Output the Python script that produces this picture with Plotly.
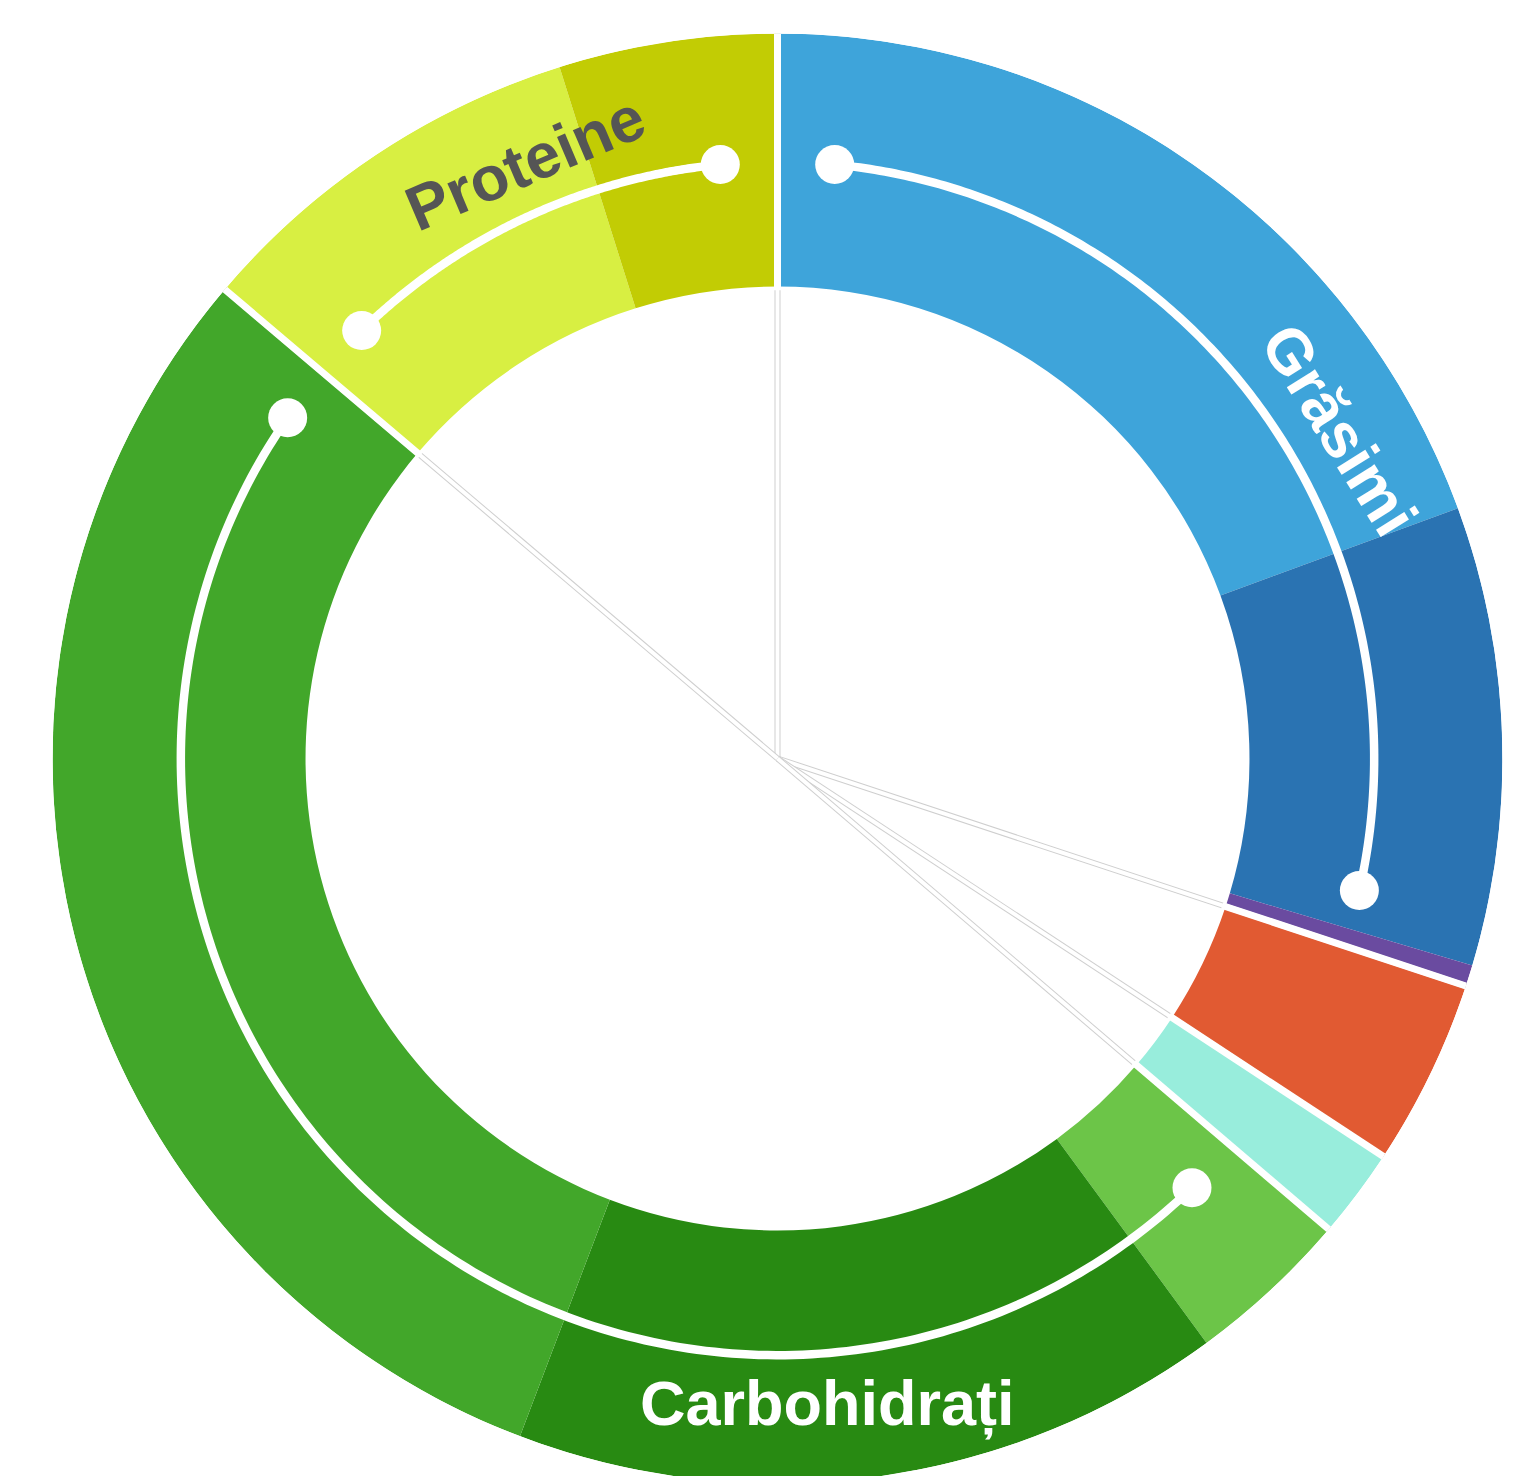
import numpy as np
import plotly.graph_objects as go

# ---------------- data ----------------
categories = ["Grăsimi 1", "Grăsimi 2", "Grăsimi 3", "Segment 4", "Segment 5",
              "Carbohidrați 1", "Carbohidrați 2", "Carbohidrați 3",
              "Proteine 1", "Proteine 2"]
groups = ["Grăsimi", "Grăsimi", "Grăsimi", "Segment 4", "Segment 5",
          "Carbohidrați", "Carbohidrați", "Carbohidrați",
          "Proteine", "Proteine"]
values = [19.39, 10.22, 0.47, 4.17, 2.00, 3.67, 15.86, 30.42, 8.94, 4.86]
colors = ["#3EA4DA", "#2A73B2", "#6A4BA0", "#E15A32", "#98EDDC",
          "#6CC548", "#288A12", "#42A72A", "#D8EF42", "#C2CC04"]
arc_groups = ["Grăsimi", "Carbohidrați", "Proteine"]
label_text = ["Grăsimi", "Carbohidrați", "Proteine"]
label_colors = ["#FFFFFF", "#FFFFFF", "#555555"]

# ---------------- geometry ----------------
W, H = 1532, 1476
CX, CY, R = 769.5, 750.5, 725.0
INNER = 0.651
ARC_R = 0.823
ARC_INSET = 5.5

vals = np.array(values, dtype=float)
ends = np.cumsum(vals) / vals.sum() * 360.0
starts = ends - vals / vals.sum() * 360.0
widths = ends - starts
centers = (starts + ends) / 2

fig = go.Figure()

fig.add_trace(go.Barpolar(
    r=[1 - INNER] * len(vals), base=[INNER] * len(vals),
    theta=centers, width=widths,
    marker=dict(color=colors, line=dict(width=0)),
    text=categories, hoverinfo="text", showlegend=False,
))

# group boundaries
bounds = [0.0]
for i in range(1, len(groups)):
    if groups[i] != groups[i - 1]:
        bounds.append(starts[i])

for b in bounds:
    fig.add_trace(go.Scatterpolar(r=[0.0, 1.03], theta=[b, b], mode="lines",
                                  line=dict(color="#CFCFCF", width=6), cliponaxis=False,
                                  hoverinfo="skip", showlegend=False))
    fig.add_trace(go.Scatterpolar(r=[0.0, 1.026], theta=[b, b], mode="lines",
                                  line=dict(color="#FFFFFF", width=4), cliponaxis=False,
                                  hoverinfo="skip", showlegend=False))
    fig.add_trace(go.Scatterpolar(r=[INNER - 0.005, 1.0], theta=[b, b], mode="lines",
                                  line=dict(color="#FFFFFF", width=7), cliponaxis=False,
                                  hoverinfo="skip", showlegend=False))

# group arcs with dots
for g in arc_groups:
    idx = [i for i, gg in enumerate(groups) if gg == g]
    a0 = starts[idx[0]] + ARC_INSET
    a1 = ends[idx[-1]] - ARC_INSET
    th = np.linspace(a0, a1, 200)
    fig.add_trace(go.Scatterpolar(r=[ARC_R] * len(th), theta=th, mode="lines",
                                  line=dict(color="#FFFFFF", width=8.5),
                                  hoverinfo="skip", showlegend=False))
    fig.add_trace(go.Scatterpolar(r=[ARC_R, ARC_R], theta=[a0, a1], mode="markers",
                                  marker=dict(color="#FFFFFF", size=39, line=dict(width=0)),
                                  hoverinfo="skip", showlegend=False))

fig.update_layout(
    width=W, height=H,
    margin=dict(l=0, r=0, t=0, b=0),
    paper_bgcolor="white",
    polar=dict(
        domain=dict(x=[(CX - R) / W, (CX + R) / W],
                    y=[max(0.0, (H - CY - R) / H), min(1.0, (H - CY + R) / H)]),
        bgcolor="rgba(0,0,0,0)",
        radialaxis=dict(visible=False, range=[0, 1]),
        angularaxis=dict(visible=False, direction="clockwise", rotation=90,
                         showgrid=False, showline=False, ticks=""),
    ),
    showlegend=False,
)

# labels placed along the ring
label_pos = {"Grăsimi": (0.898, 59.7, 58.0),
             "Carbohidrați": (0.893, 175.6, 0),
             "Proteine": (0.893, 337.0, -23.0)}
for t, c in zip(label_text, label_colors):
    rr, th, ang = label_pos[t]
    x = (CX + rr * R * np.sin(np.radians(th))) / W
    y = (H - CY + rr * R * np.cos(np.radians(th))) / H
    fig.add_annotation(x=x, y=y, xref="paper", yref="paper", text=f"<b>{t}</b>",
                       showarrow=False, textangle=ang, xanchor="center", yanchor="middle",
                       font=dict(family="Liberation Sans, Arial, sans-serif", size=63, color=c))

fig.write_html("out.html")
